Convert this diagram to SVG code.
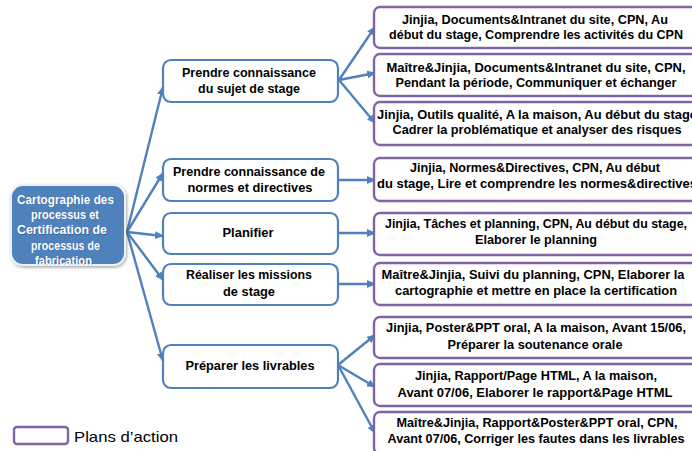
<svg xmlns="http://www.w3.org/2000/svg" width="692" height="451" viewBox="0 0 692 451">
  <style>
    .t { font-family: "Liberation Sans", Arial, sans-serif; font-weight: bold; font-size: 12.5px; fill: #000; text-anchor: middle; dominant-baseline: central; }
    .root-t { font-family: "Liberation Sans", Arial, sans-serif; font-weight: bold; font-size: 13px; fill: #fff; text-anchor: middle; dominant-baseline: central; }
    .root-s { fill: #274a75; fill-opacity: 0.6; }
    .task { fill: #fff; stroke: #4f81bd; stroke-width: 2.2; }
    .plan { fill: #fff; stroke: #8064a2; stroke-width: 2.4; }
    .edge { fill: none; stroke: #4f81bd; stroke-width: 2.4; marker-end: url(#arrow); }
    .legend-t { font-family: "Liberation Sans", Arial, sans-serif; font-size: 15px; fill: #000; dominant-baseline: central; }
  </style>
  <defs>
    <marker id="arrow" markerUnits="userSpaceOnUse" markerWidth="9" markerHeight="8" refX="8" refY="4" orient="auto">
      <path d="M0,0 L9,4 L0,8 Z" fill="#4f81bd"/>
    </marker>
    <filter id="shadow" x="-20%" y="-20%" width="140%" height="140%">
      <feDropShadow dx="1" dy="1.5" stdDeviation="1.5" flood-color="#000" flood-opacity="0.35"/>
    </filter>
  </defs>

  <rect width="692" height="451" fill="#fff"/>

  <!-- connectors -->
  <g id="connectors">
    <path class="edge" d="M127,232 L163,87"/>
    <path class="edge" d="M127,232 L163,173"/>
    <path class="edge" d="M127,232 L163,236"/>
    <path class="edge" d="M127,232 L163,280"/>
    <path class="edge" d="M127,232 L163,361"/>

    <path class="edge" d="M339,80 L375,27"/>
    <path class="edge" d="M339,80 L375,73"/>
    <path class="edge" d="M339,80 L375,123"/>
    <path class="edge" d="M338,180 L375,180"/>
    <path class="edge" d="M338,233 L375,233"/>
    <path class="edge" d="M338,284 L375,284"/>
    <path class="edge" d="M338,365 L375,335"/>
    <path class="edge" d="M338,365 L375,387"/>
    <path class="edge" d="M338,365 L375,433"/>
  </g>

  <!-- root -->
  <g id="root">
    <rect x="11" y="185" width="114" height="80" rx="12" fill="#4f81bd" stroke="#eef2f8" stroke-width="2" filter="url(#shadow)"/>
    <!-- soft text shadow, offset copy -->
    <g transform="translate(0.7,0.8)">
      <text class="root-t root-s" x="65.5" y="199" textLength="97" lengthAdjust="spacingAndGlyphs">Cartographie des</text>
      <text class="root-t root-s" x="65" y="214" textLength="68" lengthAdjust="spacingAndGlyphs">processus et</text>
      <text class="root-t root-s" x="62" y="229.5" textLength="90" lengthAdjust="spacingAndGlyphs">Certification de</text>
      <text class="root-t root-s" x="65.5" y="245" textLength="69" lengthAdjust="spacingAndGlyphs">processus de</text>
      <text class="root-t root-s" x="63.5" y="260" textLength="57" lengthAdjust="spacingAndGlyphs">fabrication</text>
    </g>
    <text class="root-t" x="65.5" y="199" textLength="97" lengthAdjust="spacingAndGlyphs">Cartographie des</text>
    <text class="root-t" x="65" y="214" textLength="68" lengthAdjust="spacingAndGlyphs">processus et</text>
    <text class="root-t" x="62" y="229.5" textLength="90" lengthAdjust="spacingAndGlyphs">Certification de</text>
    <text class="root-t" x="65.5" y="245" textLength="69" lengthAdjust="spacingAndGlyphs">processus de</text>
    <text class="root-t" x="63.5" y="260" textLength="57" lengthAdjust="spacingAndGlyphs">fabrication</text>
  </g>

  <!-- tasks -->
  <g id="task-sujet">
    <rect class="task" x="163" y="60" width="175" height="42" rx="8"/>
    <text class="t" x="249" y="73" textLength="134" lengthAdjust="spacingAndGlyphs">Prendre connaissance</text>
    <text class="t" x="249" y="89" textLength="102" lengthAdjust="spacingAndGlyphs">du sujet de stage</text>
  </g>
  <g id="task-normes">
    <rect class="task" x="163" y="159" width="175" height="42" rx="8"/>
    <text class="t" x="249" y="172" textLength="152" lengthAdjust="spacingAndGlyphs">Prendre connaissance de</text>
    <text class="t" x="250" y="188" textLength="125" lengthAdjust="spacingAndGlyphs">normes et directives</text>
  </g>
  <g id="task-planifier">
    <rect class="task" x="163" y="213" width="175" height="41" rx="8"/>
    <text class="t" x="248" y="233" textLength="51" lengthAdjust="spacingAndGlyphs">Planifier</text>
  </g>
  <g id="task-missions">
    <rect class="task" x="163" y="264" width="175" height="41" rx="8"/>
    <text class="t" x="249" y="275" textLength="126" lengthAdjust="spacingAndGlyphs">Réaliser les missions</text>
    <text class="t" x="249" y="292" textLength="52" lengthAdjust="spacingAndGlyphs">de stage</text>
  </g>
  <g id="task-livrables">
    <rect class="task" x="163" y="345" width="175" height="43" rx="8"/>
    <text class="t" x="250" y="366" textLength="129" lengthAdjust="spacingAndGlyphs">Préparer les livrables</text>
  </g>

  <!-- action plans -->
  <g id="plan-1">
    <rect class="plan" x="374" y="7" width="326" height="41" rx="6"/>
    <text class="t" x="535" y="20" textLength="266" lengthAdjust="spacingAndGlyphs">Jinjia, Documents&amp;Intranet du site, CPN, Au</text>
    <text class="t" x="536" y="35" textLength="294" lengthAdjust="spacingAndGlyphs">début du stage, Comprendre les activités du CPN</text>
  </g>
  <g id="plan-2">
    <rect class="plan" x="374" y="54" width="326" height="42" rx="6"/>
    <text class="t" x="536" y="68" textLength="299" lengthAdjust="spacingAndGlyphs">Maître&amp;Jinjia, Documents&amp;Intranet du site, CPN,</text>
    <text class="t" x="536" y="83" textLength="281" lengthAdjust="spacingAndGlyphs">Pendant la période, Communiquer et échanger</text>
  </g>
  <g id="plan-3">
    <rect class="plan" x="374" y="102" width="326" height="43" rx="6"/>
    <text class="t" x="537" y="115" textLength="320" lengthAdjust="spacingAndGlyphs">Jinjia, Outils qualité, A la maison, Au début du stage</text>
    <text class="t" x="537" y="130" textLength="289" lengthAdjust="spacingAndGlyphs">Cadrer la problématique et analyser des risques</text>
  </g>
  <g id="plan-4">
    <rect class="plan" x="374" y="158" width="326" height="43" rx="6"/>
    <text class="t" x="535" y="168" textLength="250" lengthAdjust="spacingAndGlyphs">Jinjia, Normes&amp;Directives, CPN, Au début</text>
    <text class="t" x="537" y="184" textLength="320" lengthAdjust="spacingAndGlyphs">du stage, Lire et comprendre les normes&amp;directives</text>
  </g>
  <g id="plan-5">
    <rect class="plan" x="374" y="213" width="326" height="42" rx="6"/>
    <text class="t" x="536" y="224" textLength="302" lengthAdjust="spacingAndGlyphs">Jinjia, Tâches et planning, CPN, Au début du stage,</text>
    <text class="t" x="536" y="240" textLength="122" lengthAdjust="spacingAndGlyphs">Elaborer le planning</text>
  </g>
  <g id="plan-6">
    <rect class="plan" x="374" y="263" width="326" height="42" rx="6"/>
    <text class="t" x="533" y="275" textLength="303" lengthAdjust="spacingAndGlyphs">Maître&amp;Jinjia, Suivi du planning, CPN, Elaborer la</text>
    <text class="t" x="536" y="291" textLength="282" lengthAdjust="spacingAndGlyphs">cartographie et mettre en place la certification</text>
  </g>
  <g id="plan-7">
    <rect class="plan" x="374" y="317" width="326" height="41" rx="6"/>
    <text class="t" x="536" y="328" textLength="300" lengthAdjust="spacingAndGlyphs">Jinjia, Poster&amp;PPT oral, A la maison, Avant 15/06,</text>
    <text class="t" x="535" y="345" textLength="175" lengthAdjust="spacingAndGlyphs">Préparer la soutenance orale</text>
  </g>
  <g id="plan-8">
    <rect class="plan" x="374" y="364" width="326" height="42" rx="6"/>
    <text class="t" x="536" y="376" textLength="242" lengthAdjust="spacingAndGlyphs">Jinjia, Rapport/Page HTML, A la maison,</text>
    <text class="t" x="535" y="393" textLength="275" lengthAdjust="spacingAndGlyphs">Avant 07/06, Elaborer le rapport&amp;Page HTML</text>
  </g>
  <g id="plan-9">
    <rect class="plan" x="374" y="412" width="326" height="42" rx="6"/>
    <text class="t" x="537" y="423" textLength="281" lengthAdjust="spacingAndGlyphs">Maître&amp;Jinjia, Rapport&amp;Poster&amp;PPT oral, CPN,</text>
    <text class="t" x="536" y="439" textLength="297" lengthAdjust="spacingAndGlyphs">Avant 07/06, Corriger les fautes dans les livrables</text>
  </g>

  <!-- legend -->
  <g id="legend">
    <rect class="plan" x="14" y="427" width="54" height="17" rx="3" stroke-width="2"/>
    <text class="legend-t" x="74" y="436" textLength="104" lengthAdjust="spacingAndGlyphs">Plans d’action</text>
  </g>
</svg>
